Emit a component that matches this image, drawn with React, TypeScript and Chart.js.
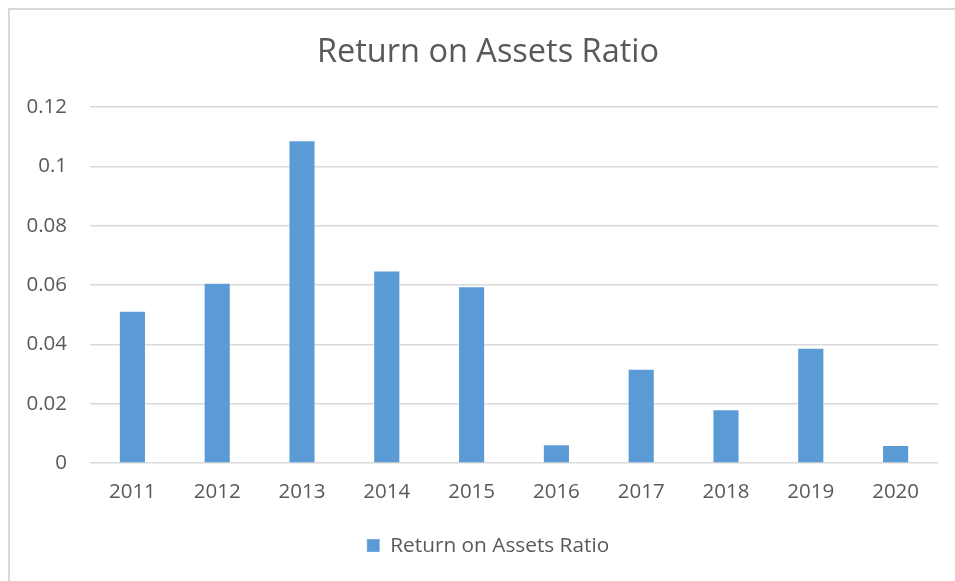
import React, { useEffect, useRef } from "react";
import { Chart, registerables } from "chart.js";

Chart.register(...registerables);

const categories = ["2011", "2012", "2013", "2014", "2015", "2016", "2017", "2018", "2019", "2020"];
const roaValues = [0.0514, 0.0608, 0.1088, 0.0649, 0.0596, 0.0064, 0.0318, 0.0182, 0.0389, 0.0061];
const seriesLabel = "Return on Assets Ratio";
const chartTitle = "Return on Assets Ratio";

export default function App() {
  const ref = useRef<HTMLCanvasElement | null>(null);

  useEffect(() => {
    document.body.style.margin = "0";
    document.body.style.overflow = "hidden";
    const ctx = ref.current!;
    const FONT = "'Open Sans', sans-serif";
    const chart = new Chart(ctx, {
      type: "bar",
      data: {
        labels: categories,
        datasets: [
          {
            label: seriesLabel,
            data: roaValues,
            backgroundColor: "#5B9BD5",
            borderColor: "rgba(255,255,255,0.35)",
            borderWidth: 1,
            categoryPercentage: 1,
            barPercentage: 0.32,
            yAxisID: "y",
          },
        ],
      },
      options: {
        animation: false,
        responsive: true,
        maintainAspectRatio: false,
        layout: { padding: { left: 0, right: 0, top: 0, bottom: 15 } },
        plugins: {
          title: {
            display: true,
            text: chartTitle,
            color: "#595959",
            font: { family: FONT, size: 32.5, weight: "normal" },
            padding: { top: 23, bottom: 35 },
          },
          legend: {
            position: "bottom",
            labels: {
              color: "#595959",
              font: { family: FONT, size: 20.8 },
              boxWidth: 13,
              boxHeight: 13,
              padding: 10,
            },
          },
          tooltip: { enabled: false },
        },
        scales: {
          x: {
            grid: { display: false, drawTicks: false },
            border: { display: false },
            ticks: {
              color: "#595959",
              font: { family: FONT, size: 20.5 },
              padding: 17,
              maxRotation: 0,
            },
            afterFit: (scale: any) => {
              scale.height = 62;
            },
          },
          y: {
            position: "left",
            min: 0,
            max: 0.12,
            grid: { color: "#d9d9d9", lineWidth: 1.5, drawTicks: false },
            border: { display: false },
            ticks: {
              stepSize: 0.02,
              color: "#595959",
              font: { family: FONT, size: 20.5 },
              padding: 23,
              callback: (v: any) => String(Math.round(Number(v) * 100) / 100),
            },
            afterFit: (scale: any) => {
              scale.width = 80;
            },
          },
          spacer: {
            type: "linear",
            position: "right",
            display: true,
            grid: { display: false, drawTicks: false },
            border: { display: false },
            ticks: { display: false },
            afterFit: (scale: any) => {
              scale.width = 28;
            },
          },
        },
      },
    });
    return () => chart.destroy();
  }, []);

  return (
    <div
      style={{
        position: "absolute",
        left: 8,
        top: 8,
        width: 958,
        height: 573,
        borderLeft: "2px solid #d9d9d9",
        borderTop: "2px solid #d9d9d9",
        boxSizing: "border-box",
        background: "#fff",
      }}
    >
      <canvas ref={ref} />
    </div>
  );
}
